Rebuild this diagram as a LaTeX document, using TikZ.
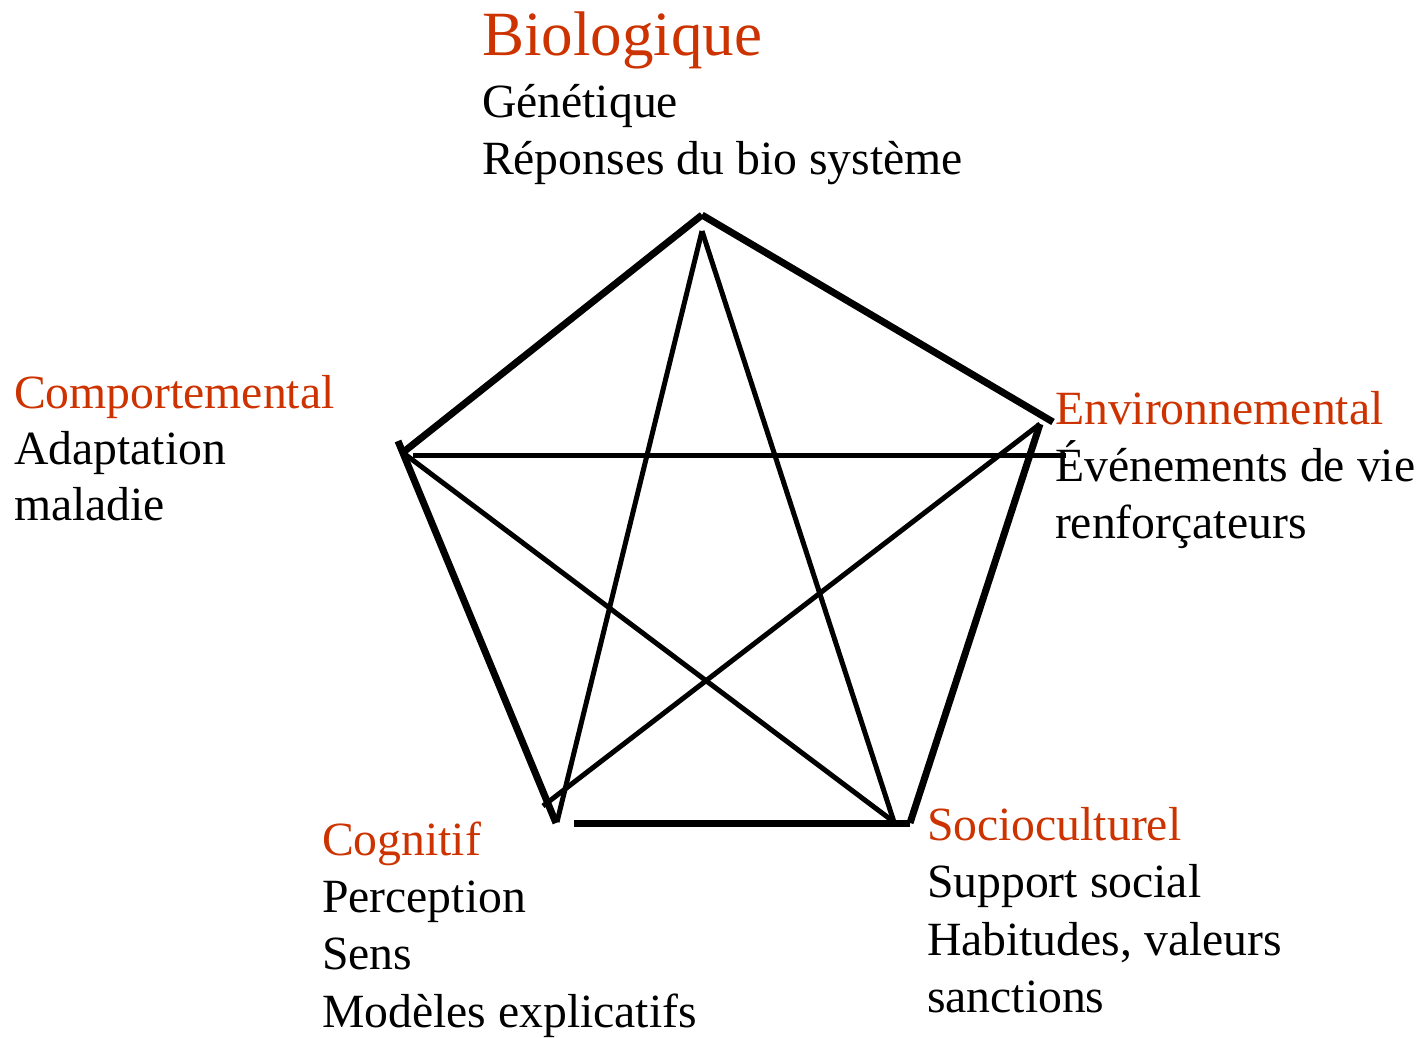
\documentclass[tikz,border=0pt]{standalone}
\usepackage{fontspec}
\setmainfont{Liberation Serif}
\definecolor{titlered}{RGB}{204,51,0}
\tikzset{
  edgethick/.style={line width=7pt},
  edgethin/.style={line width=5pt},
  lbl/.style={anchor=base west, inner sep=0pt, outer sep=0pt, font=\fontsize{47.7}{57}\selectfont},
  ttl/.style={lbl, text=titlered},
}
\begin{document}
\begin{tikzpicture}[x=1pt,y=-1pt]
\useasboundingbox (0,0) rectangle (1425,1037);
% endpoints
\coordinate (top) at (702,215);
\coordinate (topin) at (702,231);
\coordinate (lefta) at (401,454);
\coordinate (leftb) at (398,441);
\coordinate (leftc) at (402,452);
\coordinate (lefth) at (413,455);
\coordinate (righta) at (1053,422);
\coordinate (rightb) at (1040,424);
\coordinate (righth) at (1066,455);
\coordinate (cogv) at (556,823);
\coordinate (cogin) at (557,822);
\coordinate (cogx) at (543,806);
\coordinate (cogb) at (574,823);
\coordinate (soc) at (910,823);
\coordinate (socin) at (894,822);
% outer pentagon
\draw[edgethick] (lefta) -- (top);
\draw[edgethick] (top) -- (righta);
\draw[edgethick] (leftb) -- (cogv);
\draw[edgethick] (cogb) -- (soc);
\draw[edgethick] (soc) -- (rightb);
% inner star
\draw[edgethin] (lefth) -- (righth);
\draw[edgethin] (leftc) -- (socin);
\draw[edgethin] (topin) -- (cogin);
\draw[edgethin] (topin) -- (socin);
\draw[edgethin] (cogx) -- (rightb);
% labels
\node[ttl, font=\fontsize{63}{70}\selectfont] (bio) at (482,55) {Biologique};
\node[lbl] (bio1) at (482,117) {Génétique};
\node[lbl] (bio2) at (482,174) {Réponses du bio système};
\node[ttl] (comp) at (14,408) {Comportemental};
\node[lbl] (comp1) at (14,464) {Adaptation};
\node[lbl] (comp2) at (14,520) {maladie};
\node[ttl] (env) at (1055,424) {Environnemental};
\node[lbl] (env1) at (1055,481) {Événements de vie};
\node[lbl] (env2) at (1055,538) {renforçateurs};
\node[ttl] (cog) at (322,855) {Cognitif};
\node[lbl] (cog1) at (322,912) {Perception};
\node[lbl] (cog2) at (322,969) {Sens};
\node[lbl] (cog3) at (322,1027) {Modèles explicatifs};
\node[ttl] (soci) at (927,840) {Socioculturel};
\node[lbl] (soci1) at (927,897) {Support social};
\node[lbl] (soci2) at (927,955) {Habitudes, valeurs};
\node[lbl] (soci3) at (927,1012) {sanctions};
\end{tikzpicture}
\end{document}
